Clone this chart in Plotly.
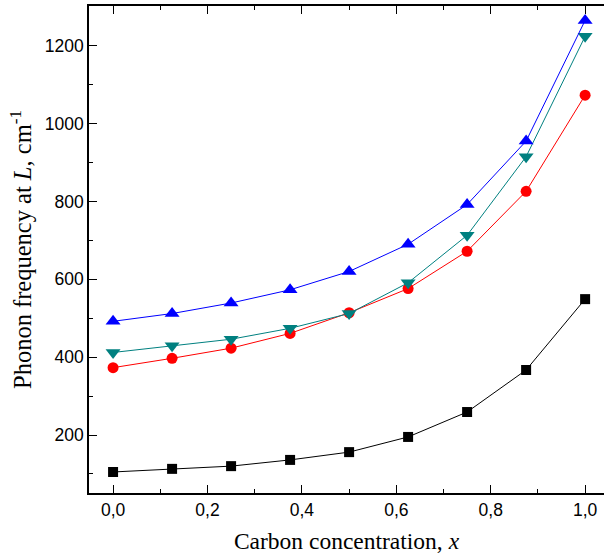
import plotly.graph_objects as go

x = [0.0, 0.125, 0.25, 0.375, 0.5, 0.625, 0.75, 0.875, 1.0]
black_sq = [105, 113, 120, 136, 156, 195, 259, 367, 549]
red_circ = [373, 397, 423, 461, 514, 576, 672, 826, 1073]
teal_tri = [412, 429, 446, 474, 512, 591, 713, 915, 1224]
blue_tri = [492, 512, 539, 573, 620, 690, 792, 955, 1265]

series = [
    (black_sq, "black", "square", 10),
    (red_circ, "red", "circle", 11),
    (teal_tri, "#008080", "triangle-down", 13),
    (blue_tri, "blue", "triangle-up", 13),
]

fig = go.Figure()
for ys, col, sym, sz in series:
    fig.add_trace(go.Scatter(
        x=x, y=ys, mode="lines+markers",
        line=dict(color=col, width=1),
        marker=dict(color=col, symbol=sym, size=sz),
        showlegend=False,
    ))

fig.update_layout(
    width=604, height=559,
    margin=dict(l=89, r=0, t=6, b=66),
    plot_bgcolor="white", paper_bgcolor="white",
    separators=",.",
    font=dict(family="Liberation Sans, Arial", size=17.5, color="black"),
)
fig.update_xaxes(
    range=[-0.051, 1.04],
    tickvals=[0, 0.2, 0.4, 0.6, 0.8, 1.0], tickformat=".1f",
    ticks="inside", ticklen=8, tickwidth=1.2, tickcolor="black",
    minor=dict(ticks="inside", dtick=0.1, tick0=0, ticklen=4, tickcolor="black"),
    showline=True, linecolor="black", linewidth=1.5, mirror="ticks",
    showgrid=False, zeroline=False,
    title=dict(text="Carbon concentration, <i>x</i>",
               font=dict(family="Liberation Serif, Times New Roman", size=23.5), standoff=14),
)
fig.update_yaxes(
    range=[51, 1302],
    tickvals=[200, 400, 600, 800, 1000, 1200],
    ticks="inside", ticklen=8, tickwidth=1.2, tickcolor="black",
    minor=dict(ticks="inside", dtick=100, tick0=0, ticklen=4, tickcolor="black"),
    showline=True, linecolor="black", linewidth=1.5, mirror=False,
    showgrid=False, zeroline=False,
    title=dict(text="Phonon frequency at <i>L</i>, cm<sup>-1</sup>",
               font=dict(family="Liberation Serif, Times New Roman", size=24.5), standoff=6),
)

fig.write_html("out.html")
